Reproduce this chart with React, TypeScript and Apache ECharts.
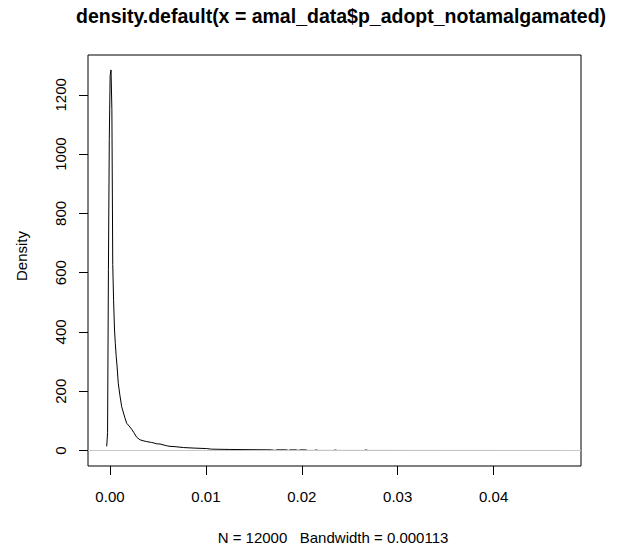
import React, { useEffect, useRef } from "react";
import * as echarts from "echarts";

// Density estimate
const densityX: number[] = [
  -0.00034, -0.00025, -0.00016, -0.00007, 0.00002, 0.00011, 0.0002, 0.00029,
  0.00038, 0.00047, 0.00056, 0.00065, 0.00074, 0.000865, 0.00102, 0.00122,
  0.00156, 0.00174, 0.00191, 0.00226, 0.0025, 0.00278, 0.00313, 0.00344,
  0.00383, 0.00435, 0.0045, 0.00487, 0.00521, 0.00591, 0.00626, 0.00678,
  0.00764, 0.00886, 0.01008, 0.0106, 0.0125, 0.0146, 0.0167, 0.01686,
  0.0172, 0.0174, 0.0184, 0.0186, 0.0188, 0.0194, 0.0196, 0.0199, 0.0204,
  0.0206, 0.0213, 0.0215, 0.0217, 0.0233, 0.0235, 0.0237, 0.0265, 0.0267,
  0.0269, 0.0472,
];
const densityY: number[] = [
  14, 60, 610, 1050, 1265, 1284, 1150, 628,
  505, 410, 360, 318, 285, 227, 190, 148,
  110, 92, 86, 72, 60, 45, 36, 33,
  30, 27, 26, 22.6, 22, 16, 14, 13,
  10, 8, 6.5, 4.5, 3.5, 2.8, 2.2, 2.0,
  0.3, 2.2, 2.2, 0.3, 2.0, 2.0, 0.3, 2.0, 2.0,
  0.2, 0.2, 1.8, 0.2, 0.1, 1.6, 0.1, 0.1, 1.8,
  0.1, 0,
];

const xTicks: number[] = [0, 0.01, 0.02, 0.03, 0.04];
const yTicks: number[] = [0, 200, 400, 600, 800, 1000, 1200];
const X_LIM: [number, number] = [-0.00229, 0.04911];
const Y_LIM: [number, number] = [-52.3, 1334.3];

const TITLE = "density.default(x = amal_data$p_adopt_notamalgamated)";
const X_LABEL = "N = 12000   Bandwidth = 0.000113";
const Y_LABEL = "Density";

const FONT = "'Liberation Sans', Arial, Helvetica, sans-serif";

export default function App() {
  const ref = useRef<HTMLDivElement>(null);
  useEffect(() => {
    if (!ref.current) return;
    const chart = echarts.init(ref.current, undefined, { renderer: "svg" });
    const curve = densityX.map((x, i) => [x, densityY[i]]);
    chart.setOption({
      animation: false,
      backgroundColor: "#ffffff",
      grid: {
        left: 88,
        top: 55,
        width: 493,
        height: 411,
        show: true,
        borderColor: "#000",
        borderWidth: 1,
        backgroundColor: "transparent",
      },
      xAxis: {
        type: "value",
        min: X_LIM[0],
        max: X_LIM[1],
        axisLine: { show: false, onZero: false },
        splitLine: { show: false },
        axisTick: {
          show: true,
          customValues: xTicks,
          length: 9,
          inside: false,
          lineStyle: { color: "#000", width: 1 },
        },
        axisLabel: {
          show: true,
          customValues: xTicks,
          margin: 23,
          fontSize: 15,
          fontFamily: FONT,
          color: "#000",
          formatter: (v: number) => v.toFixed(2),
        },
      },
      yAxis: {
        type: "value",
        min: Y_LIM[0],
        max: Y_LIM[1],
        axisLine: { show: false, onZero: false },
        splitLine: { show: false },
        axisTick: {
          show: true,
          customValues: yTicks,
          length: 9,
          inside: false,
          lineStyle: { color: "#000", width: 1 },
        },
        axisLabel: {
          show: true,
          customValues: yTicks,
          rotate: 90,
          margin: 20,
          fontSize: 15,
          fontFamily: FONT,
          color: "#000",
          formatter: (v: number) => String(Math.round(v)),
        },
      },
      series: [
        {
          type: "line",
          data: curve,
          showSymbol: false,
          symbol: "none",
          lineStyle: { color: "#000", width: 1 },
          z: 2,
        },
        {
          type: "line",
          data: [
            [X_LIM[0], 0],
            [X_LIM[1], 0],
          ],
          showSymbol: false,
          symbol: "none",
          lineStyle: { color: "#c8c8c8", width: 1 },
          z: 5,
        },
      ],
      graphic: [
        {
          type: "text",
          x: 341,
          y: 16,
          style: {
            text: TITLE,
            font: `bold 19.5px ${FONT}`,
            fill: "#000",
            align: "center",
            verticalAlign: "middle",
          },
        },
        {
          type: "text",
          x: 333,
          y: 537,
          style: {
            text: X_LABEL,
            font: `15px ${FONT}`,
            fill: "#000",
            align: "center",
            verticalAlign: "middle",
          },
        },
        {
          type: "text",
          x: 21.5,
          y: 256,
          rotation: Math.PI / 2,
          style: {
            text: Y_LABEL,
            font: `15px ${FONT}`,
            fill: "#000",
            align: "center",
            verticalAlign: "middle",
          },
        },
      ],
    });
    return () => chart.dispose();
  }, []);
  return (
    <div
      ref={ref}
      style={{ position: "fixed", left: 0, top: 0, width: 625, height: 551, background: "#fff" }}
    />
  );
}
